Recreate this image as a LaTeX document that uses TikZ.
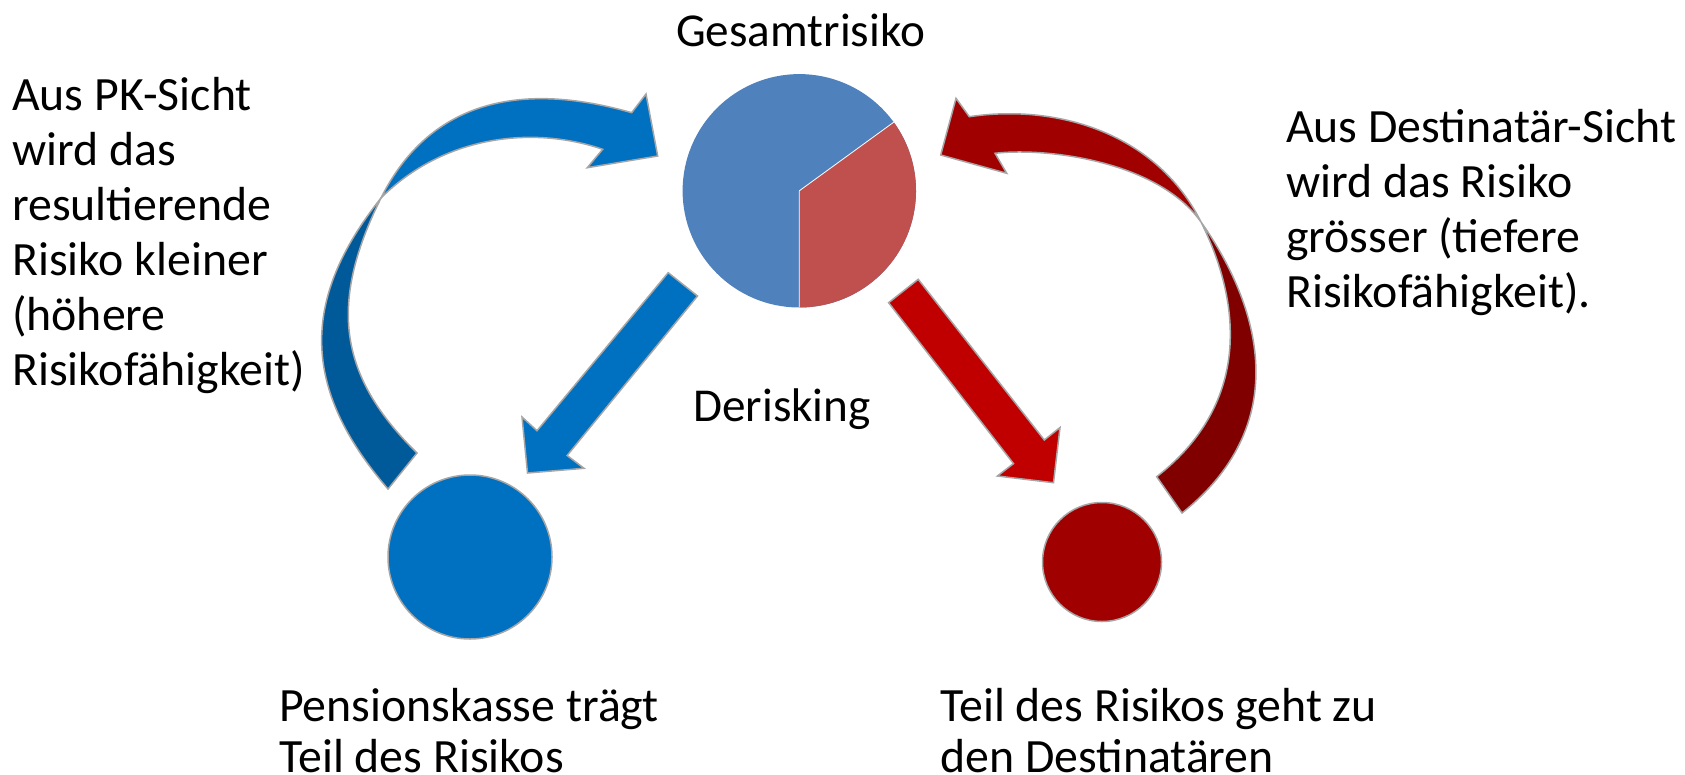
\documentclass[tikz,border=0pt]{standalone}
\usepackage{fontspec}
\setmainfont{Carlito}
\definecolor{outl}{HTML}{A6A6A6}
\definecolor{pieblue}{HTML}{4F81BD}
\definecolor{piered}{HTML}{C0504D}
\definecolor{bmain}{HTML}{0070C0}
\definecolor{bdark}{HTML}{005A9A}
\definecolor{rmain}{HTML}{C00000}
\definecolor{rcirc}{HTML}{A00000}
\definecolor{rdark}{HTML}{800000}
\begin{document}
\begin{tikzpicture}[x=1bp,y=-1bp,
  lbl/.style={inner sep=0pt, font=\fontsize{47.8bp}{55bp}\selectfont, align=left},
  lblb/.style={inner sep=0pt, font=\fontsize{47.8bp}{50.5bp}\selectfont, align=left},
  lbls/.style={inner sep=0pt, font=\fontsize{47.2bp}{55bp}\selectfont},
  shp/.style={draw=outl, line width=1.5bp, line join=miter}]
\useasboundingbox (0,0) rectangle (1685,775);

% pie chart
\coordinate (pc) at (799.3,190.8);
\fill[pieblue] (pc) circle[radius=116.7];
\fill[piered] (pc) -- ++(-36:116.7) arc[start angle=-36,end angle=90,radius=116.7] -- cycle;
\draw[white, line width=0.8bp] (pc) -- ++(-36:116.7) (pc) -- ++(90:116.7);

% circles
\node[circle, minimum size=164bp, inner sep=0pt, fill=bmain, shp] (pk) at (470,557) {};
\node[circle, minimum size=119bp, inner sep=0pt, fill=rcirc, shp] (dest) at (1102,562) {};

% straight arrows
\path[shp, fill=bmain] (668.2,272.7) -- (697.5,296) -- (567.1,455.5) -- (584,468.3) -- (527.5,473) -- (522,417) -- (537,430.7) -- cycle;
\path[shp, fill=rmain] (888.6,302.7) -- (918.2,279.3) -- (1044.3,440) -- (1060,427.5) -- (1053.5,482.7) -- (997.4,476) -- (1013.5,463.6) -- cycle;

% blue curved arrow
\path[shp, fill=bdark] (381,198) .. controls (300,300) and (301.5,388.7) .. (388,489)
  -- (417,453) .. controls (340,377.5) and (327.3,305.8) .. (381,198) -- cycle;
\path[shp, fill=bmain] (381,198) .. controls (418.2,123.4) and (491.7,72.7) .. (631.7,112.7)
  -- (646,94) -- (657.7,156) -- (587.3,167.7) -- (602.7,149.3)
  .. controls (532.7,125.3) and (443.5,135.5) .. (381,198) -- cycle;

% red curved arrow
\path[shp, fill=rdark] (1201,222) .. controls (1253.7,296.4) and (1300,418.6) .. (1182,513)
  -- (1156.7,476.7) .. controls (1258.9,397) and (1235.2,290.1) .. (1201,222) -- cycle;
\path[shp, fill=rcirc] (1201,222) .. controls (1157,134.4) and (1059.3,103.4) .. (969.3,116.7)
  -- (956,98.3) -- (940.7,155) -- (1006.7,173.3) -- (995,153.3)
  .. controls (1045,147.3) and (1157.5,160.5) .. (1201,222) -- cycle;

% texts (base anchor = baseline of last line)
\node[lbls, anchor=base west] (title) at (676,47) {Gesamtrisiko};
\node[lbls, anchor=base west] (der) at (693,421) {Derisking};
\node[lbl, anchor=base west] (pktxt) at (12,385) {Aus PK-Sicht\\wird das\\resultierende\\Risiko kleiner\\(höhere\\Risikofähigkeit)};
\node[lbl, anchor=base west] (desttxt) at (1286,307) {Aus Destinatär-Sicht\\wird das Risiko\\grösser (tiefere\\Risikofähigkeit).};
\node[lblb, anchor=base west] (pkbot) at (279,772) {Pensionskasse trägt\\Teil des Risikos};
\node[lblb, anchor=base west] (destbot) at (940,772) {Teil des Risikos geht zu\\den Destinatären};
\end{tikzpicture}
\end{document}
